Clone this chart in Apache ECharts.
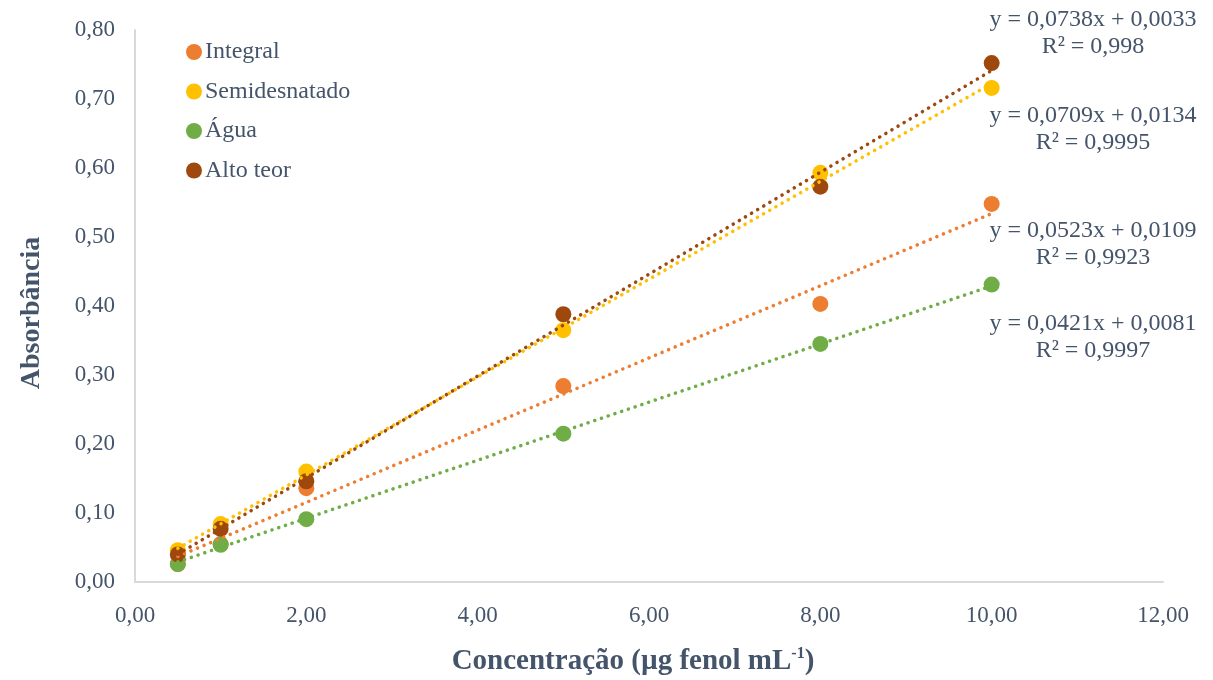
<!DOCTYPE html>
<html><head><meta charset="utf-8">
<script src="https://cdn.jsdelivr.net/npm/echarts@6/dist/echarts.min.js"></script>
<style>html,body{margin:0;padding:0;background:#fff;overflow:hidden}#c{width:1213px;height:680px}</style>
</head><body><div id="c"></div>
<script>
const xValues = [0.5, 1, 2, 5, 8, 10];
const seriesNames = ['Integral', 'Semidesnatado', 'Água', 'Alto teor'];
const integral = [0.026, 0.055, 0.136, 0.284, 0.403, 0.548];
const semidesnatado = [0.046, 0.084, 0.160, 0.365, 0.593, 0.716];
const agua = [0.026, 0.054, 0.091, 0.215, 0.345, 0.431];
const altoTeor = [0.040, 0.077, 0.146, 0.388, 0.573, 0.752];
const slopes = [0.0523, 0.0709, 0.0421, 0.0738];
const intercepts = [0.0109, 0.0134, 0.0081, 0.0033];
const eqTexts = ['y = 0,0523x + 0,0109', 'y = 0,0709x + 0,0134', 'y = 0,0421x + 0,0081', 'y = 0,0738x + 0,0033'];
const r2Texts = ['R² = 0,9923', 'R² = 0,9995', 'R² = 0,9997', 'R² = 0,998'];
const colors = ['#ED7D31', '#FFC000', '#70AD47', '#9E480E'];
const allValues = [integral, semidesnatado, agua, altoTeor];

const txt = '#44546A';
const font = 'Liberation Serif';
const fmt = v => v.toFixed(2).replace('.', ',');

const series = [];
allValues.forEach((vals, i) => {
  series.push({
    name: seriesNames[i], type: 'scatter', symbol: 'circle', symbolSize: 16, z: 2,
    itemStyle: { color: colors[i], opacity: 1 },
    data: xValues.map((x, j) => [x, vals[j]])
  });
});
allValues.forEach((vals, i) => {
  const x0 = xValues[0], x1 = xValues[xValues.length - 1];
  series.push({
    name: 'trend' + i, type: 'line', symbol: 'none', z: 5, silent: true,
    lineStyle: { color: colors[i], width: 3.5, type: [0.1, 7], cap: 'round' },
    data: [[x0, slopes[i] * x0 + intercepts[i]], [x1, slopes[i] * x1 + intercepts[i]]]
  });
});

// equation label boxes (centre of the two-line block)
const eqPos = [[1093, 244], [1093, 129], [1093, 337], [1093, 33]];
const graphics = [];
eqTexts.forEach((t, i) => {
  graphics.push({ type: 'text', x: eqPos[i][0], y: eqPos[i][1],
    style: { text: t + '\n' + r2Texts[i], fill: txt, font: '24px "Liberation Serif"', align: 'center', verticalAlign: 'middle', lineHeight: 27 } });
});

const chart = echarts.init(document.getElementById('c'));
chart.setOption({
  animation: false,
  textStyle: { fontFamily: font },
  grid: { left: 135, right: 50, top: 30, bottom: 98, containLabel: false, outerBoundsMode: 'none' },
  legend: {
    data: seriesNames, orient: 'vertical', left: 181, top: 35, itemGap: 15.5,
    icon: 'circle', itemWidth: 16, itemHeight: 16, itemStyle: { borderWidth: 0 },
    textStyle: { color: txt, fontSize: 24, lineHeight: 24, fontFamily: font, padding: [0, 0, 0, -2] }
  },
  xAxis: {
    type: 'value', min: 0, max: 12, interval: 2,
    axisLine: { show: true, lineStyle: { color: '#D9D9D9', width: 2 } },
    axisTick: { show: false }, splitLine: { show: false },
    axisLabel: { color: txt, fontSize: 23, fontFamily: font, margin: 22, formatter: fmt },
    name: '{a|Concentração (µg fenol mL}{s|-1}{a|)}', nameLocation: 'middle', nameGap: 64,
    nameTextStyle: { padding: [0, 32, 0, 0], rich: {
      a: { color: txt, fontSize: 29, fontWeight: 'bold', fontFamily: font, verticalAlign: 'bottom', lineHeight: 30 },
      s: { color: txt, fontSize: 16, fontWeight: 'bold', fontFamily: font, verticalAlign: 'top', lineHeight: 30, padding: [0, 0, 15, 0] }
    } }
  },
  yAxis: {
    type: 'value', min: 0, max: 0.8, interval: 0.1,
    axisLine: { show: true, lineStyle: { color: '#D9D9D9', width: 2 } },
    axisTick: { show: false }, splitLine: { show: false },
    axisLabel: { color: txt, fontSize: 23, fontFamily: font, margin: 20, formatter: fmt },
    name: 'Absorbância', nameLocation: 'middle', nameGap: 89,
    nameTextStyle: { color: txt, fontSize: 28, fontWeight: 'bold', fontFamily: font, padding: [0, 14, 0, 0] }
  },
  graphic: graphics,
  series: series
});
</script></body></html>
